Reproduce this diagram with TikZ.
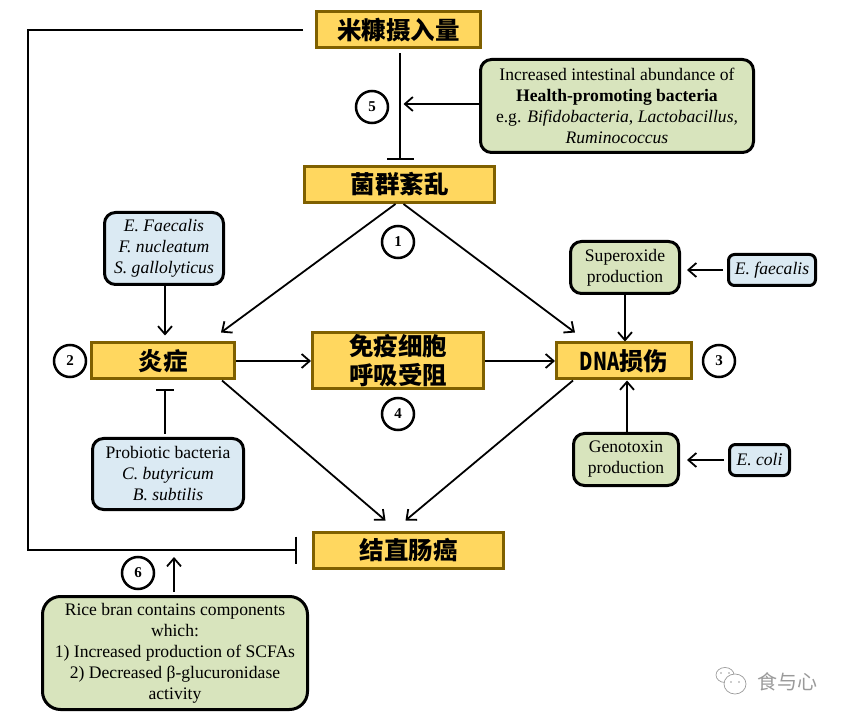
\documentclass[tikz,border=0pt]{standalone}
\usepackage{fontspec}
\setmainfont{Liberation Serif}
\newfontfamily\cjk{Noto Sans CJK SC}
\usetikzlibrary{arrows.meta}
\definecolor{boxyellow}{HTML}{FFD75F}
\definecolor{boxbrown}{HTML}{7F6000}
\definecolor{boxgreen}{HTML}{D8E4BD}
\definecolor{boxblue}{HTML}{DBEAF3}
\definecolor{markgray}{HTML}{9A9A9A}
\begin{document}
\begin{tikzpicture}[x=1pt,y=-1pt]
        \tikzstyle{every node}=[align=center,inner sep=0pt,font=\fontsize{17.6}{21}\selectfont]
        \tikzstyle{stage}=[draw=boxbrown,fill=boxyellow,line width=3pt,minimum height=36pt,font=\cjk\bfseries\fontsize{24.5}{29}\selectfont]
        \tikzstyle{agent}=[draw=black,line width=3pt,rounded corners=11pt]
        \tikzstyle{greenbox}=[agent,fill=boxgreen]
        \tikzstyle{bluebox}=[agent,fill=boxblue]
        \tikzstyle{num}=[draw=black,fill=white,circle,line width=2.5pt,minimum size=32pt,font=\bfseries\fontsize{15}{15}\selectfont]
        \tikzstyle{go}=[line width=1.8pt,-{Straight Barb[length=8pt,width=14pt,line width=1.8pt]}]
        \tikzstyle{stop}=[line width=1.8pt,-{Bar[width=27pt,line width=1.8pt]}]
        \useasboundingbox (0,0) rectangle (844,719);
        % main stages
        \node[stage,minimum width=164pt] (intake) at (398.5,30) {米糠摄入量};
        \node[stage,minimum width=190pt] (dysb) at (399.5,184.5) {菌群紊乱};
        \node[stage,minimum width=143pt] (infl) at (163,361) {炎症};
        \node[stage,minimum width=171pt,minimum height=56pt] (resp) at (398,361) {免疫细胞\\呼吸受阻};
        \node[stage,minimum width=135pt] (dna) at (624,361) {\scalebox{.75}[1]{DNA}损伤};
        \node[stage,minimum width=190pt] (crc) at (408.5,550) {结直肠癌};
        % side boxes
        \node[greenbox,minimum width=273pt,minimum height=93pt] (health) at (617,106) {Increased intestinal abundance of\\\textbf{Health-promoting bacteria}\\e.g. \textit{Bifidobacteria}, \textit{Lactobacillus,}\\\textit{Ruminococcus}};
        \node[bluebox,minimum width=119pt,minimum height=72pt] (path) at (164,248.5) {\textit{E. Faecalis}\\\textit{F. nucleatum}\\\textit{S. gallolyticus}};
        \node[bluebox,minimum width=151pt,minimum height=71pt] (prob) at (168,474) {Probiotic bacteria\\\textit{C. butyricum}\\\textit{B. subtilis}};
        \node[greenbox,minimum width=109pt,minimum height=52pt] (super) at (625,267.5) {Superoxide\\production};
        \node[bluebox,minimum width=87pt,minimum height=31pt,rounded corners=6pt] (faec) at (772,270) {\textit{E. faecalis}};
        \node[greenbox,minimum width=105pt,minimum height=52pt] (geno) at (626,459.5) {Genotoxin\\production};
        \node[bluebox,minimum width=60pt,minimum height=31pt,rounded corners=6pt] (coli) at (759.5,460) {\textit{E. coli}};
        \node[greenbox,minimum width=265pt,minimum height=113pt,rounded corners=18pt] (rice) at (175,653) {Rice bran contains components\\which:\\1) Increased production of SCFAs\\2) Decreased β-glucuronidase\\activity};
        % numbers
        \node[num] (n5) at (372,107) {5};
        \node[num] (n1) at (398,242) {1};
        \node[num] (n2) at (70,361) {2};
        \node[num] (n3) at (719,361) {3};
        \node[num] (n4) at (398,414) {4};
        \node[num] (n6) at (138,573) {6};
        % connectors
        \coordinate (tl) at (28,30);
        \coordinate (bl) at (28,550);
        \draw[stop,shorten <=12pt,shorten >=15pt] (intake.west) -- (tl) -- (bl) -- (crc.west);
        \draw[stop,shorten <=4pt,shorten >=5pt] ([xshift=1.5pt]intake.south) -- ([xshift=.5pt]dysb.north);
        \draw[go,shorten >=3.5pt] (health.west|-0,104) -- (400,104);
        \draw[go] ([xshift=-4pt]dysb.south) -- ([shift={(58pt,9pt)}]infl.north);
        \draw[go] ([xshift=4pt]dysb.south) -- ([shift={(-49pt,9pt)}]dna.north);
        \draw[go] ([xshift=1pt]path.south) -- ([shift={(2pt,6pt)}]infl.north);
        \draw[stop,-{Bar[width=18pt,line width=1.8pt]},shorten <=3pt,shorten >=9pt] (prob.north-|165,0) -- (165,0|-infl.south);
        \draw[go] (infl) -- (resp);
        \draw[go] (resp) -- (dna);
        \draw[go] ([xshift=59pt]infl.south) -- ([xshift=-23pt,yshift=10pt]crc.north);
        \draw[go] ([xshift=-51pt]dna.south) -- ([xshift=-3pt,yshift=10pt]crc.north);
        \draw[go] (super.south) -- (dna.north-|super.south);
        \draw[go] (geno.north-|627,0) -- (627,0|-dna.south);
        \draw[go,shorten <=4pt,shorten >=6pt] (faec.west) -- (super.east|-faec.west);
        \draw[go,shorten <=4pt,shorten >=7pt] (coli.west) -- (geno.east|-coli.west);
        \draw[go,shorten <=3pt,shorten >=2pt] (rice.north-|174,0) -- (174,555);
        % watermark
        \node[text=markgray,font=\cjk\fontsize{20}{20}\selectfont] (mark) at (787,682) {食与心};
        \draw[markgray,line width=.7pt] (725,675) ellipse (9pt and 7.5pt);
        \draw[markgray,line width=.7pt,fill=white] (735,684) ellipse (11pt and 10pt);
        \fill[markgray] (721,673) circle (.8pt) (729,673) circle (.8pt) (731,682) circle (.8pt) (739,682) circle (.8pt);
\end{tikzpicture}
\end{document}
